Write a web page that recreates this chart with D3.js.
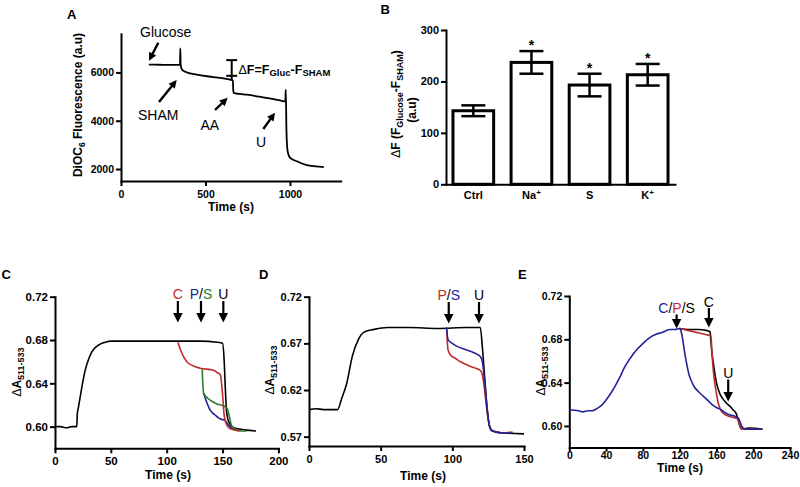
<!DOCTYPE html>
<html>
<head>
<meta charset="utf-8">
<script src="https://cdn.jsdelivr.net/npm/d3@7"></script>
<style>
body { margin: 0; background: #fff; }
svg { display: block; font-family: "Liberation Sans", Arial, Helvetica, sans-serif; }
</style>
</head>
<body>
<svg id="fig" width="800" height="487"></svg>
<script>
// ---- panel A : DiOC6 trace ----
var traceA = [[165,6320],[200,6320],[250,6315],[300,6315],[349,6310],[351,7000],[353,6350],[356,6200],[362,6110],[380,6030],[448,5905],[546,5810],[645,5700],[662,5670],[664,5300],[667,5150],[700,5110],[744,5077],[842,4966],[941,4842],[972,4800],[975,5290],[979,3600],[984,2850],[990,2620],[1000,2470],[1040,2320],[1099,2160],[1150,2110],[1200,2080]];
var ticksAx = [0, 500, 1000];
var ticksAy = [2000, 4000, 6000];
var deltaF = [6510, 5860, 5700]; // top cap, lower cap, trace level at AA

// ---- panel B : bar chart ----
var groupsB = ["Ctrl", "Na", "S", "K"];
var supB = ["", "+", "", "+"];
var meanB = [143, 237, 193, 213];
var semB = [10.5, 22, 22, 21];
var starB = [false, true, true, true];
var ticksBy = [0, 100, 200, 300];

// ---- panel C ----
var cBlack = [[0,0.600],[5,0.600],[10,0.599],[15,0.600],[19.5,0.600],[20,0.612],[21,0.618],[23,0.630],[25,0.642],[27,0.652],[30,0.662],[33,0.669],[36,0.673],[40,0.676],[45,0.678],[50,0.679],[70,0.679],[100,0.679],[130,0.679],[145,0.678],[150,0.677],[151.5,0.660],[152.5,0.635],[153.5,0.615],[155,0.606],[157,0.602],[160,0.599],[170,0.597],[180,0.596]];
var cRed = [[110,0.678],[113.5,0.668],[118,0.660],[124,0.656],[130,0.654],[142,0.652],[145,0.650],[148,0.648],[150,0.630],[151.5,0.610],[154,0.601],[157,0.598],[165,0.596]];
var cGreen = [[131.8,0.653],[132.3,0.640],[133,0.631],[137,0.626],[145,0.621],[151,0.619],[154,0.617],[156,0.610],[158,0.601],[161,0.598],[166,0.596],[172,0.596]];
var cBlue = [[133,0.631],[136,0.622],[139,0.615],[143,0.611],[148,0.607],[152,0.606],[155,0.602],[159,0.598],[163,0.597]];
var eventsC = [110, 130.7, 150.7];
var ticksCx = [0, 50, 100, 150, 200];
var ticksCy = [0.60, 0.64, 0.68, 0.72];

// ---- panel D ----
var dBlack = [[0,0.599],[5,0.600],[10,0.599],[15,0.599],[20,0.599],[22.8,0.611],[26.3,0.627],[30.2,0.656],[34.4,0.674],[38.5,0.682],[45.5,0.685],[55,0.687],[70,0.687],[90,0.686],[110,0.687],[119.5,0.687],[121,0.665],[122.5,0.635],[124,0.605],[125,0.590],[126,0.581],[128,0.576],[135,0.574],[150,0.573]];
var dRed = [[96,0.687],[97,0.663],[99,0.657],[102,0.654],[106,0.650],[110,0.647],[115,0.644],[119.5,0.641],[121,0.636],[122.5,0.620],[124,0.600],[125,0.589],[126,0.581],[128,0.576],[135,0.574],[142,0.575]];
var dBlue = [[96,0.687],[97,0.674],[100,0.670],[103,0.667],[110,0.663],[115,0.660],[119.5,0.656],[121,0.650],[122.5,0.630],[124,0.605],[125,0.590],[126,0.581],[128,0.576],[135,0.574],[142,0.574]];
var eventsD = [97.5, 118.6];
var ticksDx = [0, 50, 100, 150];
var ticksDy = [0.57, 0.62, 0.67, 0.72];

// ---- panel E ----
var eBlue = [[0,0.615],[10,0.614],[15,0.613],[20,0.614],[25,0.614],[30,0.616],[35,0.619],[40,0.624],[45,0.630],[50,0.637],[55,0.645],[60,0.654],[65,0.661],[70,0.667],[75,0.672],[80,0.676],[85,0.680],[90,0.683],[95,0.685],[100,0.686],[105,0.688],[110,0.689],[115,0.689],[120,0.690],[121,0.689],[122.5,0.684],[124,0.676],[126,0.665],[128,0.656],[130,0.648],[133,0.641],[136,0.636],[140,0.632],[145,0.628],[150,0.624],[155,0.620],[160,0.617],[165,0.615],[170,0.612],[175,0.610],[180,0.609],[184,0.607],[186,0.603],[188,0.599],[192,0.597],[200,0.597],[210,0.597]];
var eBlack = [[120,0.690],[130,0.689],[140,0.689],[150,0.688],[153,0.687],[154,0.678],[155,0.668],[156.5,0.659],[158,0.650],[160,0.640],[163.6,0.630],[167,0.625],[171,0.621],[175,0.618],[178,0.615],[181.7,0.611],[183.5,0.606],[185.4,0.600],[188,0.597],[195,0.598],[210,0.597]];
var eRed = [[120,0.690],[125,0.689],[130,0.688],[140,0.686],[150,0.684],[154,0.683],[155,0.670],[156.5,0.652],[158.3,0.639],[160,0.630],[162,0.621],[164,0.616],[167,0.612],[175,0.6085],[182,0.607],[184.5,0.603],[186,0.599],[188,0.597],[210,0.597]];
var eventsE = [116.7, 151.8, 172.8];
var ticksEx = [0, 40, 80, 120, 160, 200, 240];
var ticksEy = [0.60, 0.64, 0.68, 0.72];

(function () {
    'use strict';
    var svg = d3.select('#fig'),
        RED = '#bf2a2c', BLUE = '#22229a', GREEN = '#2d7a2f';

    function styleAxis(ax, fs) {
        ax.attr('font-family', null);
        ax.select('.domain').attr('stroke', '#000').attr('stroke-width', 2).attr('stroke-linecap', 'square');
        ax.selectAll('.tick line').attr('stroke', '#000').attr('stroke-width', 2);
        ax.selectAll('.tick text').attr('fill', '#000').attr('font-size', fs).attr('font-weight', 'bold');
    }

    function addAxes(g, x, y, xt, yt, xf, yf, fs, xTick, xPad) {
        var ax = g.append('g')
            .attr('transform', 'translate(0,' + y.range()[0] + ')')
            .call(d3.axisBottom(x).tickValues(xt).tickFormat(xf)
                .tickSize(xTick || 5).tickPadding(xPad === undefined ? 4 : xPad).tickSizeOuter(0));
        styleAxis(ax, fs);
        var ay = g.append('g')
            .attr('transform', 'translate(' + x.range()[0] + ',0)')
            .call(d3.axisLeft(y).tickValues(yt).tickFormat(yf).tickSize(5).tickPadding(2).tickSizeOuter(0));
        styleAxis(ay, fs);
    }

    function addText(g, x, y, txt, fs, anchor, weight, color) {
        return g.append('text')
            .attr('x', x).attr('y', y)
            .attr('font-size', fs)
            .attr('font-weight', weight || 'bold')
            .attr('text-anchor', anchor || 'start')
            .attr('fill', color || '#000')
            .text(txt);
    }

    // vertical (bottom-to-top) text, centred on (x, y) with its baseline at x
    function vText(g, x, y, fs) {
        return g.append('g')
            .attr('transform', 'translate(' + x + ',' + y + ') rotate(-90)')
            .append('text')
            .attr('x', 0).attr('y', 0)
            .attr('text-anchor', 'middle')
            .attr('font-size', fs)
            .attr('font-weight', 'bold');
    }

    function drawTrace(g, x, y, data, color, w) {
        var line = d3.line()
            .x(function (d) { return x(d[0]); })
            .y(function (d) { return y(d[1]); })
            .curve(d3.curveMonotoneX);
        g.append('path').datum(data)
            .attr('d', line)
            .attr('fill', 'none')
            .attr('stroke', color)
            .attr('stroke-width', w || 1.6)
            .attr('stroke-linejoin', 'round');
    }

    // arrow from (x1,y1) to tip (x2,y2)
    function arrow(g, x1, y1, x2, y2, head, w) {
        var dx = x2 - x1, dy = y2 - y1, len = Math.sqrt(dx * dx + dy * dy),
            ux = dx / len, uy = dy / len,
            bx = x2 - ux * head, by = y2 - uy * head, hw = head * 0.5;
        g.append('line')
            .attr('x1', x1).attr('y1', y1).attr('x2', bx + ux).attr('y2', by + uy)
            .attr('stroke', '#000').attr('stroke-width', w);
        g.append('path')
            .attr('d', 'M' + x2 + ',' + y2 + 'L' + (bx - uy * hw) + ',' + (by + ux * hw) +
                'L' + (bx + uy * hw) + ',' + (by - ux * hw) + 'Z')
            .attr('fill', '#000');
    }

    function eventLabel(g, x, y, parts) {
        var t = g.append('text').attr('x', x).attr('y', y)
            .attr('font-size', 14).attr('text-anchor', 'middle');
        parts.forEach(function (p) {
            t.append('tspan').attr('fill', p[1]).text(p[0]);
        });
    }

    function yLabelDA(g, x, y) {
        var t = vText(g, x, y, 12);
        t.append('tspan').attr('font-weight', 'normal').text('\u0394');
        t.append('tspan').text('A');
        t.append('tspan').attr('font-size', 9).attr('dy', 3).text('511-533');
    }

    function panelLetter(x, y, s) {
        addText(svg, x, y, s, 13);
    }

    /* ---------- A ---------- */
    (function () {
        var g = svg.append('g'),
            x = d3.scaleLinear().domain([0, 1300]).range([121, 340.7]),
            y = d3.scaleLinear().domain([1500, 7600]).range([181.1, 33.8]),
            t, xa;
        addAxes(g, x, y, ticksAx, ticksAy, d3.format('d'), d3.format('d'), 10.5);
        drawTrace(g, x, y, traceA, '#000', 1.8);

        // delta F marker
        xa = x(655);
        g.append('line').attr('x1', xa).attr('x2', xa).attr('y1', y(deltaF[0])).attr('y2', y(deltaF[2]))
            .attr('stroke', '#000').attr('stroke-width', 2);
        [deltaF[0], deltaF[1]].forEach(function (v) {
            g.append('line').attr('x1', xa - 5.5).attr('x2', xa + 5.5).attr('y1', y(v)).attr('y2', y(v))
                .attr('stroke', '#000').attr('stroke-width', 2);
        });
        t = addText(g, 238.5, 73.5, '', 12.5);
        t.append('tspan').attr('font-weight', 'normal').text('\u0394');
        t.append('tspan').text('F=F');
        t.append('tspan').attr('font-size', 9.5).attr('dy', 2.5).text('Gluc');
        t.append('tspan').attr('dy', -2.5).text('-F');
        t.append('tspan').attr('font-size', 9.5).attr('dy', 2.5).text('SHAM');

        addText(g, 140, 37, 'Glucose', 14, 'start', 'normal');
        arrow(g, 158.3, 42.7, 149, 60.7, 8, 2.4);
        addText(g, 138, 120, 'SHAM', 14, 'start', 'normal');
        arrow(g, 159, 102, 176.7, 80, 8, 2.4);
        addText(g, 200.5, 130, 'AA', 14, 'start', 'normal');
        arrow(g, 215, 110, 227.7, 97.7, 8, 2.4);
        addText(g, 256, 147.3, 'U', 14, 'start', 'normal');
        arrow(g, 263.3, 129, 275, 112.7, 8, 2.4);

        t = vText(g, 82, 105, 12);
        t.append('tspan').text('DiOC');
        t.append('tspan').attr('font-size', 8.5).attr('dy', 3).text('6');
        t.append('tspan').attr('dy', -3).text(' Fluorescence (a.u)');
        addText(g, 231, 211, 'Time (s)', 12, 'middle');
        panelLetter(67, 18.5, 'A');
    }());

    /* ---------- B ---------- */
    (function () {
        var g = svg.append('g'),
            x = d3.scaleBand().domain(groupsB).range([446, 675]).paddingInner(0.3).paddingOuter(0.12),
            y = d3.scaleLinear().domain([0, 300]).range([184.3, 30]),
            ay, ax, t, capW = 24;

        g.selectAll('rect.bar').data(groupsB).enter().append('rect')
            .attr('class', 'bar')
            .attr('x', function (d) { return x(d); })
            .attr('y', function (d, i) { return y(meanB[i]); })
            .attr('width', x.bandwidth())
            .attr('height', function (d, i) { return y(0) - y(meanB[i]); })
            .attr('fill', '#fff').attr('stroke', '#000').attr('stroke-width', 3);

        groupsB.forEach(function (d, i) {
            var cx = x(d) + x.bandwidth() / 2, hi = y(meanB[i] + semB[i]), lo = y(meanB[i] - semB[i]);
            g.append('line').attr('x1', cx).attr('x2', cx).attr('y1', hi).attr('y2', lo)
                .attr('stroke', '#000').attr('stroke-width', 2.5);
            [hi, lo].forEach(function (yy) {
                g.append('line').attr('x1', cx - capW / 2).attr('x2', cx + capW / 2).attr('y1', yy).attr('y2', yy)
                    .attr('stroke', '#000').attr('stroke-width', 2.5);
            });
            if (starB[i]) {
                addText(g, cx, hi - 1, '*', 14, 'middle');
            }
            t = addText(g, cx, 199, d, 11, 'middle');
            if (supB[i]) {
                t.append('tspan').attr('font-size', 8).attr('dy', -4.5).text(supB[i]);
            }
        });

        ay = g.append('g').attr('transform', 'translate(446,0)')
            .call(d3.axisLeft(y).tickValues(ticksBy).tickSize(5).tickPadding(2).tickSizeOuter(0));
        styleAxis(ay, 11);
        ax = g.append('g').attr('transform', 'translate(0,' + y(0) + ')')
            .call(d3.axisBottom(x).tickSize(0).tickSizeOuter(0).tickFormat(''));
        styleAxis(ax, 11);

        t = vText(g, 400, 104, 12);
        t.append('tspan').attr('font-weight', 'normal').text('\u0394');
        t.append('tspan').text('F (F');
        t.append('tspan').attr('font-size', 9).attr('dy', 3).text('Glucose');
        t.append('tspan').attr('dy', -3).text('-F');
        t.append('tspan').attr('font-size', 9).attr('dy', 3).text('SHAM');
        t.append('tspan').attr('dy', -3).text(')');
        vText(g, 416, 110, 12).text('(a.u)');
        panelLetter(380.5, 13.5, 'B');
    }());

    /* ---------- C ---------- */
    (function () {
        var g = svg.append('g'),
            x = d3.scaleLinear().domain([0, 200]).range([55, 278.4]),
            y = d3.scaleLinear().domain([0.58, 0.72]).range([448.3, 296.7]);
        addAxes(g, x, y, ticksCx, ticksCy, d3.format('d'), d3.format('.2f'), 11.5);
        drawTrace(g, x, y, cBlack, '#000');
        drawTrace(g, x, y, cBlue, BLUE);
        drawTrace(g, x, y, cGreen, GREEN);
        drawTrace(g, x, y, cRed, RED);
        eventLabel(g, x(eventsC[0]), 299, [['C', RED]]);
        eventLabel(g, x(eventsC[1]), 299, [['P', BLUE], ['/', '#000'], ['S', GREEN]]);
        eventLabel(g, x(eventsC[2]), 299, [['U', '#000']]);
        eventsC.forEach(function (e) { arrow(g, x(e), 301, x(e), 322.5, 9.5, 2.2); });
        yLabelDA(g, 21, 372);
        addText(g, 168, 479, 'Time (s)', 12, 'middle');
        panelLetter(1.5, 279, 'C');
    }());

    /* ---------- D ---------- */
    (function () {
        var g = svg.append('g'),
            x = d3.scaleLinear().domain([0, 150]).range([309, 524]),
            y = d3.scaleLinear().domain([0.56, 0.72]).range([446, 296.7]);
        addAxes(g, x, y, ticksDx, ticksDy, d3.format('d'), d3.format('.2f'), 11);
        drawTrace(g, x, y, dBlack, '#000');
        drawTrace(g, x, y, dRed, RED);
        drawTrace(g, x, y, dBlue, BLUE);
        eventLabel(g, x(eventsD[0]), 300, [['P', RED], ['/', '#000'], ['S', BLUE]]);
        eventLabel(g, x(eventsD[1]), 300, [['U', '#000']]);
        eventsD.forEach(function (e) { arrow(g, x(e), 302, x(e), 323.5, 9.5, 2.2); });
        yLabelDA(g, 274, 370);
        addText(g, 423, 480, 'Time (s)', 12, 'middle');
        panelLetter(259, 279, 'D');
    }());

    /* ---------- E ---------- */
    (function () {
        var g = svg.append('g'),
            x = d3.scaleLinear().domain([0, 240]).range([569.3, 790]),
            y = d3.scaleLinear().domain([0.58, 0.72]).range([447.6, 296]);
        addAxes(g, x, y, ticksEx, ticksEy, d3.format('d'), d3.format('.2f'), 10.5, 4, 0);
        drawTrace(g, x, y, eBlack, '#000');
        drawTrace(g, x, y, eRed, RED);
        drawTrace(g, x, y, eBlue, BLUE);
        eventLabel(g, x(eventsE[0]), 313, [['C', BLUE], ['/', '#000'], ['P', RED], ['/', '#000'], ['S', '#000']]);
        eventLabel(g, x(eventsE[1]), 306.5, [['C', '#000']]);
        eventLabel(g, x(eventsE[2]), 378, [['U', '#000']]);
        arrow(g, x(eventsE[0]), 314.5, x(eventsE[0]), 328.5, 9.5, 2.2);
        arrow(g, x(eventsE[1]), 308, x(eventsE[1]), 327.5, 9.5, 2.2);
        arrow(g, x(eventsE[2]), 379.5, x(eventsE[2]), 401.5, 9.5, 2.2);
        yLabelDA(g, 545, 371);
        addText(g, 680, 472, 'Time (s)', 12, 'middle');
        panelLetter(518, 279, 'E');
    }());
}());
</script>
</body>
</html>
